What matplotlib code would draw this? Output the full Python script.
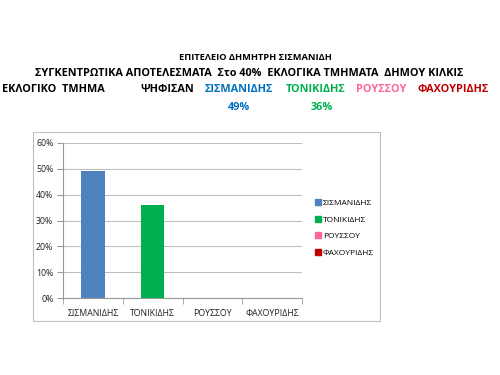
import matplotlib.pyplot as plt
from matplotlib.lines import Line2D
from matplotlib.patches import Rectangle
from matplotlib.ticker import PercentFormatter

plt.rcParams['font.family'] = ['Open Sans', 'Noto Sans', 'DejaVu Sans']

# data
candidates = ['ΣΙΣΜΑΝΙΔΗΣ', 'ΤΟΝΙΚΙΔΗΣ', 'ΡΟΥΣΣΟΥ', 'ΦΑΧΟΥΡΙΔΗΣ']
shares = [0.49, 0.36, 0.0, 0.0]
bar_colors = ['#4F81BD', '#00B050', '#FF6699', '#C00000']
text_colors = ['#0070C0', '#00B050', '#FF6699', '#C00000']
header_pct = ['49%', '36%']

fig = plt.figure(figsize=(5, 3.75), dpi=100)

# chart frame
fig.patches.append(Rectangle((33 / 500, 1 - 321 / 375), 347 / 500, 189 / 375,
                             transform=fig.transFigure, fill=False,
                             edgecolor='#BFBFBF', linewidth=0.8))

# header text
fig.text(0.51, 1 - 58 / 375, 'ΕΠΙΤΕΛΕΙΟ ΔΗΜΗΤΡΗ ΣΙΣΜΑΝΙΔΗ', ha='center', va='center',
         fontsize=6.7, fontweight='bold')
fig.text(0.498, 1 - 73 / 375,
         'ΣΥΓΚΕΝΤΡΩΤΙΚΑ ΑΠΟΤΕΛΕΣΜΑΤΑ  Στο 40%  ΕΚΛΟΓΙΚΑ ΤΜΗΜΑΤΑ  ΔΗΜΟΥ ΚΙΛΚΙΣ',
         ha='center', va='center', fontsize=7.8, fontweight='bold')
row_y = 1 - 90 / 375
fig.text(2 / 500, row_y, 'ΕΚΛΟΓΙΚΟ  ΤΜΗΜΑ', ha='left', va='center', fontsize=7.8, fontweight='bold')
fig.text(167 / 500, row_y, 'ΨΗΦΙΣΑΝ', ha='center', va='center', fontsize=7.8, fontweight='bold')
head_x = [239, 316, 381, 453]
for name, col, hx in zip(candidates, text_colors, head_x):
    fig.text(hx / 500, row_y, name, ha='center', va='center', fontsize=7.8,
             fontweight='bold', color=col)
for pct, col, hx in zip(header_pct, text_colors, [239, 322]):
    fig.text(hx / 500, 1 - 107 / 375, pct, ha='center', va='center', fontsize=7.8,
             fontweight='bold', color=col)

# bar chart
ax = fig.add_axes([63 / 500, 1 - 298 / 375, 239 / 500, 155 / 375])
x = range(len(candidates))
ax.bar(x, shares, width=0.39, color=bar_colors, zorder=3)
ax.set_xlim(-0.5, 3.5)
ax.set_ylim(0, 0.6)
ax.set_yticks([i / 10 for i in range(7)])
ax.yaxis.set_major_formatter(PercentFormatter(1.0, decimals=0))
ax.set_xticks(list(x))
ax.set_xticklabels(candidates)
ax.set_xticks([i - 0.5 for i in range(5)], minor=True)
ax.tick_params(axis='x', which='major', length=0, labelsize=6.3, pad=8, colors='#222222')
ax.tick_params(axis='x', which='minor', length=4, color='#999999')
ax.tick_params(axis='y', length=4, color='#999999', labelsize=6.3, labelcolor='#222222', pad=3)
ax.grid(axis='y', color='#BFBFBF', linewidth=0.8, zorder=0)
for s in ['top', 'right']:
    ax.spines[s].set_visible(False)
for s in ['left', 'bottom']:
    ax.spines[s].set_color('#999999')
    ax.spines[s].set_linewidth(0.8)

handles = [Line2D([], [], marker='s', linestyle='none', markersize=4, color=c) for c in bar_colors]
fig.legend(handles, candidates, loc='upper left', bbox_to_anchor=(311 / 500, 1 - 195 / 375),
           frameon=False, fontsize=6, handlelength=0.6, handletextpad=0.3,
           labelspacing=1.05, borderpad=0)

fig.savefig('out.png', dpi=100)
